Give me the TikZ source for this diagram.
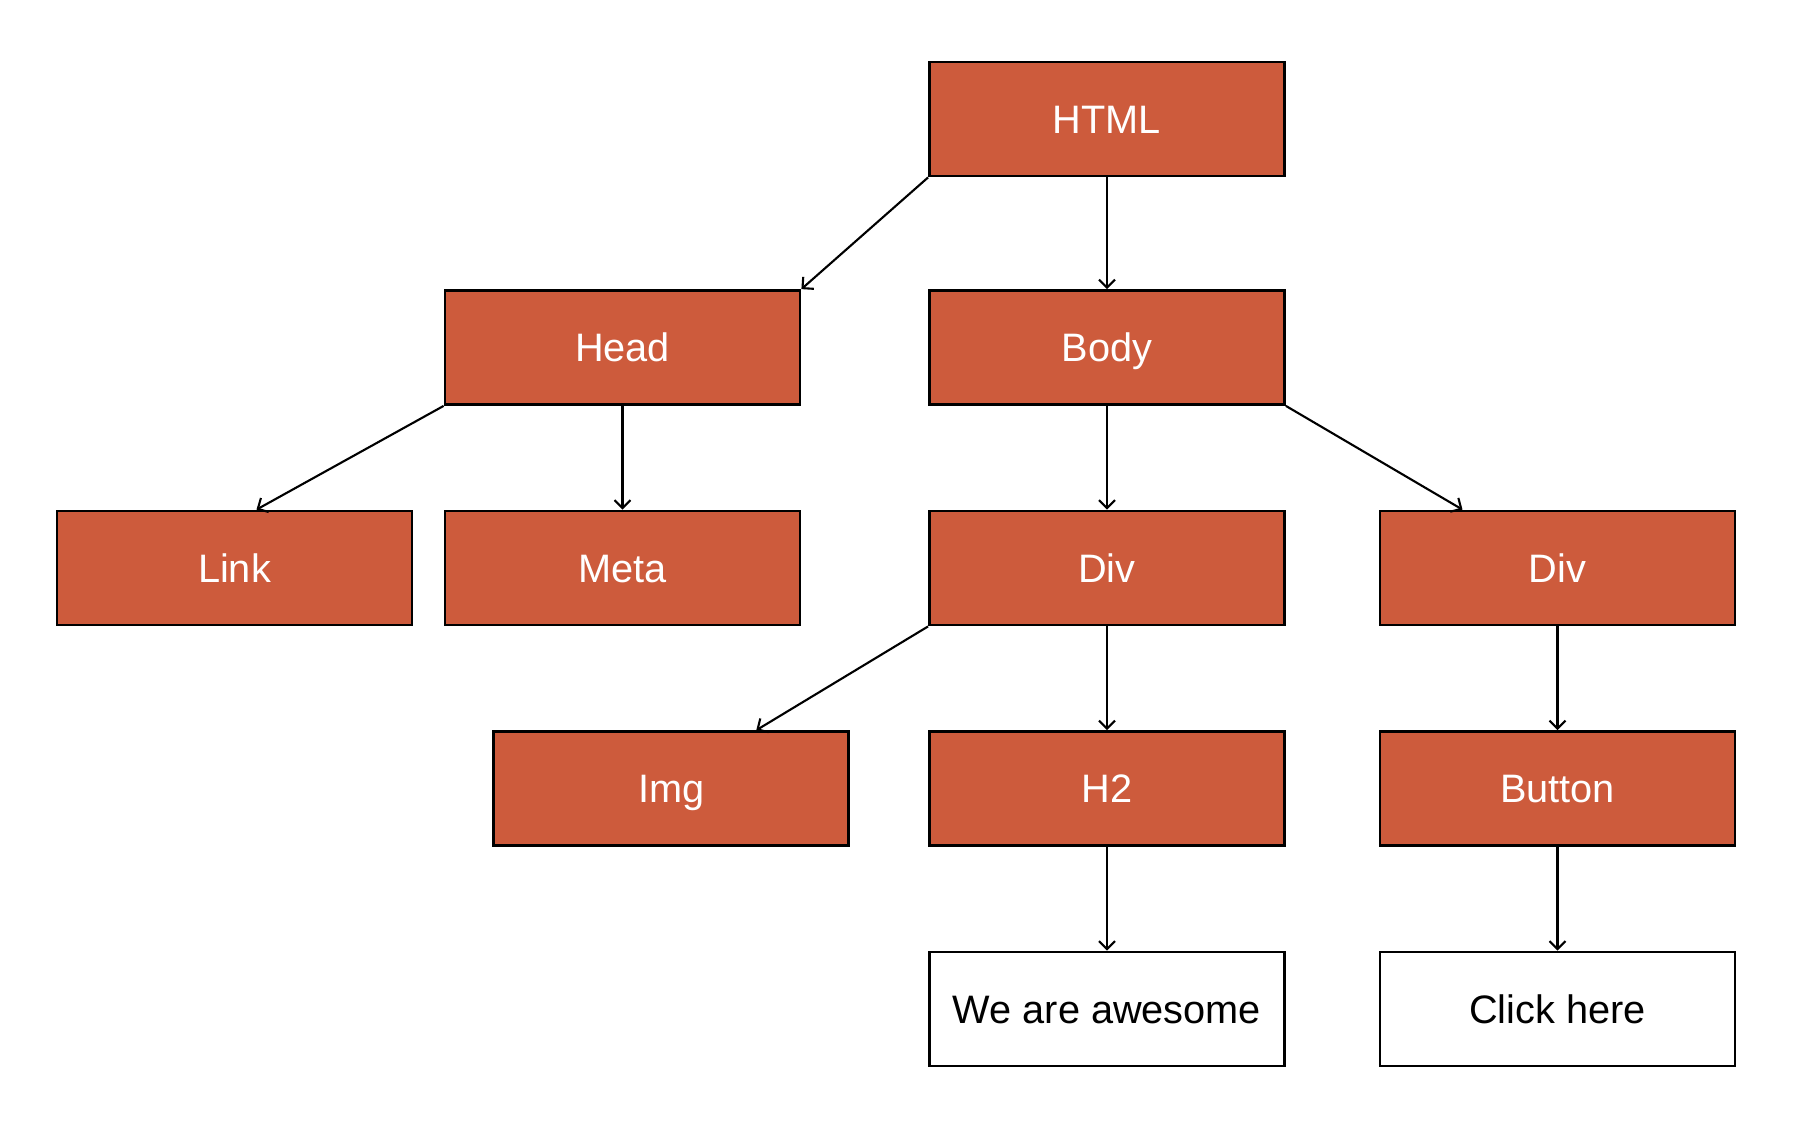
\documentclass[tikz,border=0pt]{standalone}
\usepackage{fontspec}
\setmainfont{Liberation Sans}
\usepackage{tikz}
\usetikzlibrary{arrows.meta,calc}
\definecolor{tagred}{RGB}{205,91,60}
\tikzset{
  tag/.style={draw, line width=0.8pt, fill=tagred, text=white, minimum width=35.5mm, minimum height=11.4mm, inner sep=0pt, text height=8.1pt, text depth=0pt, font=\fontsize{11.3}{13}\selectfont},
  leaf/.style={tag, fill=white, text=black},
  ln/.style={line width=0.6pt, -{Straight Barb[length=0.8mm,width=1.6mm]}}
}
\begin{document}
\begin{tikzpicture}
\useasboundingbox (0,0) rectangle (18.2,-11.42);
\node[tag] (html) at (11.07,-1.19) {HTML};
\node[tag] (head) at (6.225,-3.475) {Head};
\node[tag] (body) at (11.07,-3.475) {Body};
\node[tag] (link) at (2.345,-5.68) {Link};
\node[tag] (meta) at (6.225,-5.68) {Meta};
\node[tag] (diva) at (11.07,-5.68) {Div};
\node[tag] (divb) at (15.575,-5.68) {Div};
\node[tag] (img) at (6.713,-7.886) {Img};
\node[tag] (h2) at (11.07,-7.886) {H2};
\node[tag] (button) at (15.575,-7.886) {Button};
\node[leaf] (awesome) at (11.07,-10.09) {We are awesome};
\node[leaf] (click) at (15.575,-10.09) {Click here};

\draw[ln] (html.south west) -- (head.north east);
\draw[ln] (html.south) -- (body.north);
\draw[ln] (head.south west) -- ($(link.north)+(0.22,0)$);
\draw[ln] (head.south) -- (meta.north);
\draw[ln] (body.south) -- (diva.north);
\draw[ln] (body.south east) -- ($(divb.north)+(-0.95,0)$);
\draw[ln] (diva.south west) -- ($(img.north)+(0.85,0)$);
\draw[ln] (diva.south) -- (h2.north);
\draw[ln] (divb.south) -- (button.north);
\draw[ln] (h2.south) -- (awesome.north);
\draw[ln] (button.south) -- (click.north);
\end{tikzpicture}
\end{document}
